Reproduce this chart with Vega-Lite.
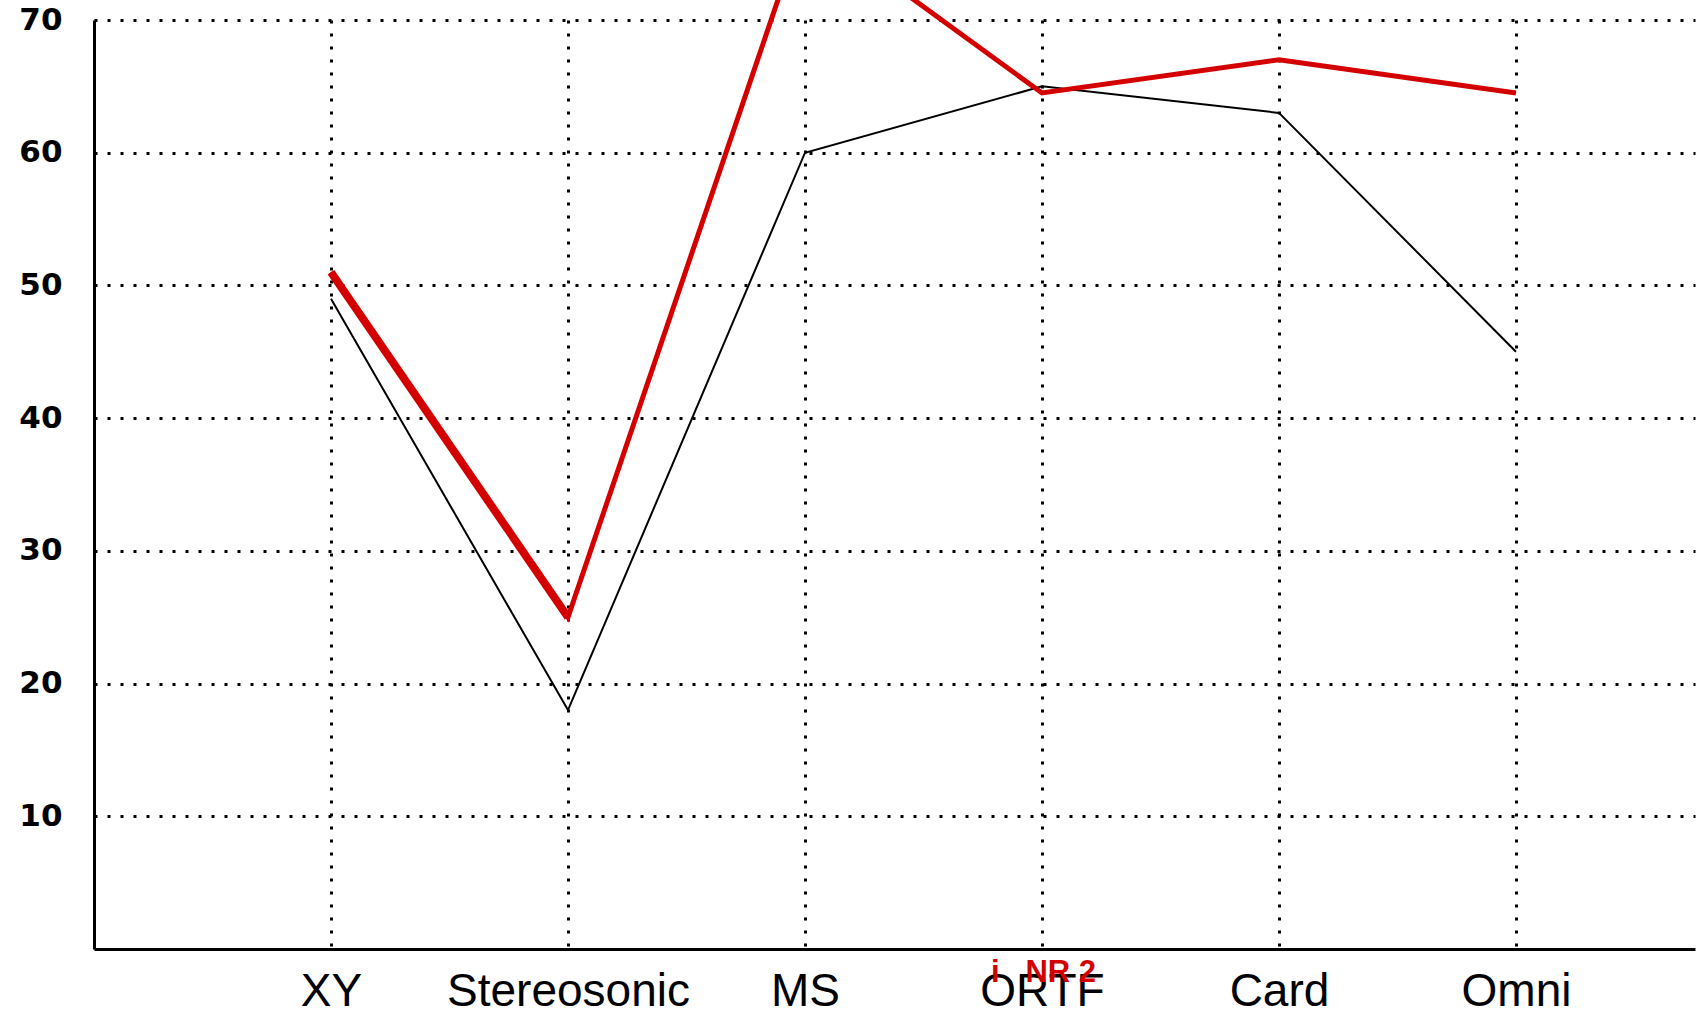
{
  "$schema": "https://vega.github.io/schema/vega-lite/v6.json",
  "autosize": {"type": "none"},
  "padding": {"left": 94, "top": 20, "right": 8, "bottom": 67},
  "width": 1601,
  "height": 929,
  "background": "white",
  "config": {"view": {"stroke": null}},
  "data": {
    "values": [
      {"mic": "XY", "series": "reference", "value": 49},
      {"mic": "Stereosonic", "series": "reference", "value": 18},
      {"mic": "MS", "series": "reference", "value": 60},
      {"mic": "ORTF", "series": "reference", "value": 65},
      {"mic": "Card", "series": "reference", "value": 63},
      {"mic": "Omni", "series": "reference", "value": 45},
      {"mic": "XY", "series": "NR 2", "value": 51},
      {"mic": "Stereosonic", "series": "NR 2", "value": 25},
      {"mic": "MS", "series": "NR 2", "value": 77.5},
      {"mic": "ORTF", "series": "NR 2", "value": 64.5},
      {"mic": "Card", "series": "NR 2", "value": 67},
      {"mic": "Omni", "series": "NR 2", "value": 64.5}
    ]
  },
  "encoding": {
    "x": {
      "field": "mic",
      "type": "nominal",
      "sort": ["XY", "Stereosonic", "MS", "ORTF", "Card", "Omni"],
      "scale": {"type": "point", "padding": 0.8776, "align": 0.5697},
      "axis": {
        "title": null,
        "labelAngle": 0,
        "labelFont": "Liberation Sans",
        "labelFontSize": 46,
        "labelLimit": 0,
        "labelColor": "black",
        "labelBaseline": "alphabetic",
        "labelPadding": 56,
        "ticks": false,
        "tickSize": 0,
        "domainColor": "black",
        "domainWidth": 3,
        "grid": true,
        "gridColor": "black",
        "gridOpacity": 1,
        "gridWidth": 3,
        "gridDash": [3, 10]
      }
    },
    "y": {
      "field": "value",
      "type": "quantitative",
      "scale": {"domain": [0, 70], "nice": false, "zero": true},
      "axis": {
        "title": null,
        "values": [10, 20, 30, 40, 50, 60, 70],
        "labelFont": "DejaVu Sans",
        "labelFontWeight": "bold",
        "labelFontSize": 31,
        "labelColor": "black",
        "labelPadding": 32,
        "ticks": false,
        "tickSize": 0,
        "domainColor": "black",
        "domainWidth": 3,
        "grid": true,
        "gridColor": "black",
        "gridOpacity": 1,
        "gridWidth": 3,
        "gridDash": [3, 10]
      }
    }
  },
  "layer": [
    {
      "transform": [{"filter": "datum.series === 'reference'"}],
      "mark": {"type": "line", "color": "black", "strokeWidth": 2, "clip": false}
    },
    {
      "transform": [{"filter": "datum.series === 'NR 2'"}],
      "mark": {"type": "line", "color": "#d40000", "strokeWidth": 5, "clip": false}
    },
    {
      "transform": [{"filter": "datum.series === 'NR 2' && (datum.mic === 'XY' || datum.mic === 'Stereosonic')"}],
      "mark": {"type": "line", "color": "#d40000", "strokeWidth": 8, "clip": false}
    },
    {
      "transform": [{"filter": "datum.series === 'NR 2' && datum.mic === 'ORTF'"}],
      "mark": {
        "type": "text",
        "color": "#d40000",
        "font": "Liberation Sans",
        "fontWeight": "bold",
        "fontSize": 31,
        "align": "left",
        "baseline": "alphabetic",
        "dx": -51,
        "clip": false
      },
      "encoding": {
        "y": {"datum": 0, "type": "quantitative"},
        "yOffset": {"value": 33},
        "text": {"value": "i\u00a0\u00a0\u00a0NR 2"}
      }
    }
  ]
}
